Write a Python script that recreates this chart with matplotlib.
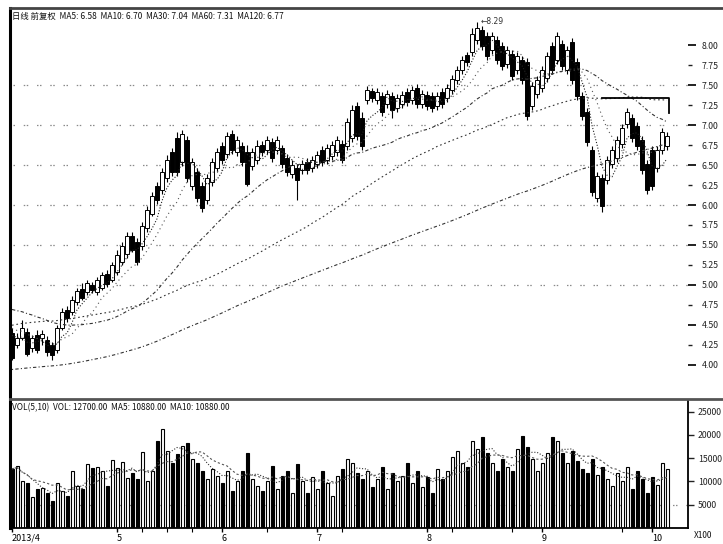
import matplotlib
matplotlib.use('Agg')
import matplotlib.pyplot as plt
import numpy as np
import pandas as pd
from matplotlib.lines import Line2D

plt.rcParams['font.family'] = ['Noto Sans CJK SC', 'DejaVu Sans']

# ---------------- data ----------------
opens = [4.40, 4.25, 4.34, 4.41, 4.21, 4.38, 4.34, 4.31, 4.25, 4.19,
         4.46, 4.69, 4.66, 4.79, 4.95, 4.91, 5.00, 4.91, 4.96, 5.14,
         5.06, 5.16, 5.29, 5.39, 5.61, 5.54, 5.49, 5.71, 5.89, 6.24,
         6.19, 6.34, 6.66, 6.84, 6.54, 6.81, 6.24, 6.41, 6.24, 6.06,
         6.29, 6.46, 6.74, 6.64, 6.89, 6.66, 6.74, 6.66, 6.49, 6.56,
         6.75, 6.69, 6.79, 6.69, 6.71, 6.59, 6.39, 6.46, 6.44, 6.54,
         6.46, 6.51, 6.69, 6.56, 6.61, 6.66, 6.76, 6.74, 6.84, 7.24,
         7.09, 7.31, 7.42, 7.31, 7.36, 7.26, 7.36, 7.21, 7.26, 7.41,
         7.31, 7.46, 7.26, 7.38, 7.36, 7.24, 7.41, 7.34, 7.44, 7.56,
         7.69, 7.88, 7.91, 8.06, 8.19, 8.11, 7.94, 8.06, 7.99, 7.76,
         7.89, 7.69, 7.81, 7.79, 7.24, 7.39, 7.46, 7.59, 7.99, 7.81,
         8.01, 7.69, 8.04, 7.79, 7.36, 7.16, 6.69, 6.09, 6.34, 6.31,
         6.51, 6.59, 6.76, 7.01, 7.09, 6.99, 6.81, 6.51, 6.69, 6.46,
         6.69, 6.74]
closes = [4.09, 4.34, 4.46, 4.14, 4.34, 4.19, 4.39, 4.16, 4.12, 4.46,
          4.66, 4.59, 4.81, 4.92, 4.84, 5.02, 4.94, 5.06, 5.12, 5.01,
          5.25, 5.38, 5.49, 5.61, 5.44, 5.29, 5.74, 5.94, 6.11, 6.06,
          6.41, 6.56, 6.41, 6.41, 6.89, 6.34, 6.54, 6.09, 5.96, 6.34,
          6.54, 6.66, 6.56, 6.86, 6.69, 6.81, 6.54, 6.26, 6.66, 6.74,
          6.66, 6.81, 6.59, 6.81, 6.51, 6.41, 6.50, 6.31, 6.51, 6.44,
          6.56, 6.62, 6.54, 6.71, 6.75, 6.81, 6.56, 7.04, 7.19, 6.86,
          6.74, 7.44, 7.34, 7.41, 7.16, 7.39, 7.19, 7.34, 7.38, 7.29,
          7.44, 7.26, 7.39, 7.24, 7.21, 7.36, 7.26, 7.46, 7.57, 7.69,
          7.81, 7.79, 8.14, 8.21, 7.99, 7.86, 8.11, 7.81, 7.74, 7.94,
          7.61, 7.86, 7.56, 7.11, 7.49, 7.56, 7.69, 7.86, 7.69, 8.11,
          7.74, 7.94, 7.56, 7.36, 7.11, 6.79, 6.16, 6.36, 5.99, 6.56,
          6.69, 6.81, 6.96, 7.16, 6.84, 6.74, 6.44, 6.19, 6.24, 6.69,
          6.91, 6.86]
highs = [4.46, 4.40, 4.56, 4.46, 4.38, 4.44, 4.44, 4.36, 4.29, 4.50,
         4.71, 4.74, 4.86, 4.96, 5.02, 5.06, 5.04, 5.10, 5.16, 5.19,
         5.29, 5.44, 5.54, 5.66, 5.66, 5.59, 5.79, 5.99, 6.16, 6.29,
         6.46, 6.62, 6.71, 6.91, 6.94, 6.86, 6.59, 6.46, 6.29, 6.39,
         6.59, 6.71, 6.79, 6.91, 6.94, 6.86, 6.79, 6.75, 6.71, 6.81,
         6.80, 6.86, 6.84, 6.86, 6.75, 6.64, 6.56, 6.51, 6.56, 6.59,
         6.61, 6.67, 6.74, 6.76, 6.80, 6.86, 6.81, 7.09, 7.25, 7.29,
         7.16, 7.49, 7.46, 7.46, 7.41, 7.44, 7.41, 7.39, 7.42, 7.46,
         7.49, 7.51, 7.44, 7.42, 7.41, 7.41, 7.46, 7.51, 7.62, 7.74,
         7.86, 7.91, 8.21, 8.29, 8.24, 8.16, 8.16, 8.11, 8.04, 7.99,
         7.94, 7.91, 7.86, 7.84, 7.54, 7.61, 7.74, 7.91, 8.04, 8.16,
         8.06, 7.99, 8.09, 7.84, 7.41, 7.21, 6.74, 6.41, 6.39, 6.61,
         6.74, 6.86, 7.01, 7.21, 7.14, 7.04, 6.86, 6.56, 6.74, 6.74,
         6.96, 6.91]
lows = [4.06, 4.21, 4.31, 4.11, 4.16, 4.15, 4.25, 4.11, 4.06, 4.15,
        4.44, 4.54, 4.62, 4.75, 4.81, 4.88, 4.90, 4.88, 4.94, 4.97,
        5.04, 5.12, 5.25, 5.34, 5.41, 5.25, 5.44, 5.66, 5.86, 6.01,
        6.14, 6.29, 6.36, 6.36, 6.49, 6.29, 6.19, 6.04, 5.91, 6.01,
        6.24, 6.41, 6.51, 6.59, 6.64, 6.61, 6.49, 6.24, 6.44, 6.51,
        6.61, 6.64, 6.54, 6.64, 6.46, 6.36, 6.34, 6.06, 6.39, 6.39,
        6.41, 6.46, 6.49, 6.51, 6.56, 6.61, 6.52, 6.69, 6.79, 6.81,
        6.69, 7.26, 7.29, 7.26, 7.11, 7.21, 7.09, 7.16, 7.21, 7.24,
        7.26, 7.21, 7.21, 7.19, 7.16, 7.19, 7.21, 7.29, 7.39, 7.51,
        7.64, 7.74, 7.86, 8.01, 7.94, 7.81, 7.89, 7.76, 7.69, 7.71,
        7.56, 7.64, 7.51, 7.06, 7.19, 7.34, 7.41, 7.54, 7.64, 7.76,
        7.69, 7.64, 7.51, 7.31, 7.06, 6.74, 6.11, 6.04, 5.91, 6.26,
        6.46, 6.54, 6.71, 6.96, 6.79, 6.69, 6.39, 6.14, 6.19, 6.41,
        6.64, 6.69]
volumes = [12700, 13300, 10100, 9700, 6700, 8400, 8600, 7500, 5800, 9700,
           8000, 6900, 12300, 9000, 8400, 13800, 12900, 13100, 12300, 9000,
           14600, 12900, 14200, 10800, 11800, 10500, 16300, 10100, 12300, 18700,
           21300, 16600, 14000, 15900, 17600, 18300, 14800, 14000, 12300, 10500,
           12700, 11200, 9700, 12300, 8000, 10100, 12300, 16100, 10500, 9000,
           8000, 10100, 13300, 8400, 11200, 12300, 7500, 13800, 10100, 7500,
           11000, 8400, 12300, 9700, 6900, 11200, 12700, 14800, 14000, 11800,
           10500, 12300, 8800, 10500, 13100, 8400, 11800, 10100, 11200, 14000,
           9700, 12300, 8800, 11000, 7500, 12700, 10500, 12300, 15300, 16600,
           14000, 13100, 18700, 17000, 19600, 16100, 14000, 12300, 14800, 13100,
           12300, 17000, 19800, 17400, 14800, 12300, 14000, 16100, 19600, 18700,
           16100, 14000, 16600, 14400, 12700, 11800, 14800, 11400, 13100, 10500,
           9000, 11800, 10100, 13100, 8400, 12300, 10500, 7500, 11000, 9200,
           14000, 12700]
# closes before the visible window (estimated), used only for the moving averages
prior_closes = [3.52, 3.55, 3.60, 3.58, 3.63, 3.66, 3.62, 3.59, 3.64, 3.68,
                3.71, 3.67, 3.63, 3.60, 3.58, 3.55, 3.57, 3.52, 3.49, 3.46,
                3.44, 3.41, 3.38, 3.35, 3.33, 3.30, 3.27, 3.25, 3.22, 3.20,
                3.18, 3.15, 3.17, 3.14, 3.12, 3.16, 3.19, 3.21, 3.18, 3.22,
                3.20, 3.17, 3.21, 3.24, 3.22, 3.26, 3.28, 3.25, 3.29, 3.32,
                3.30, 3.34, 3.37, 3.35, 3.39, 3.42, 3.45, 3.48, 3.52, 3.56,
                3.62, 3.68, 3.75, 3.80, 3.86, 3.91, 3.95, 4.00, 4.04, 4.09,
                4.12, 4.16, 4.20, 4.25, 4.28, 4.33, 4.36, 4.40, 4.43, 4.47,
                4.50, 4.52, 4.55, 4.58, 4.60, 4.63, 4.66, 4.68, 4.70, 4.73,
                4.76, 4.80, 4.85, 4.82, 4.88, 4.92, 4.95, 4.90, 4.86, 4.91,
                4.94, 4.89, 4.84, 4.80, 4.77, 4.73, 4.76, 4.70, 4.66, 4.62,
                4.65, 4.60, 4.56, 4.52, 4.55, 4.50, 4.47, 4.43, 4.46, 4.40]
ma_windows = [5, 10, 30, 60, 120]
vol_ma_windows = [5, 10]
date_ticks = [0, 21, 42, 61, 83, 106, 128]
date_labels = ['2013/4', '5', '6', '7', '8', '9', '10']
minor_date_ticks = [26, 31, 36, 51, 66, 88, 100, 122]
price_major = [4.00, 4.50, 5.00, 5.50, 6.00, 6.50, 7.00, 7.50, 8.00]
price_minor = [4.25, 4.75, 5.25, 5.75, 6.25, 6.75, 7.25, 7.75]
price_grid = [5.00, 5.50, 6.00, 6.50, 7.00, 7.50]
vol_ticks = [5000, 10000, 15000, 20000, 25000]
vol_grid = [5000]
drawn_line_x = [118, 131.4, 131.4]
drawn_line_y = [7.34, 7.34, 7.15]

# ---------------- derived ----------------
o = np.array(opens); c = np.array(closes)
h = np.array(highs); l = np.array(lows)
v = np.array(volumes, dtype=float)
n = len(c)
x = np.arange(n)
up = c >= o

allc = pd.Series(prior_closes + closes)
mas = {w: allc.rolling(w).mean().to_numpy()[len(prior_closes):] for w in ma_windows}
vs = pd.Series(v)
vmas = {w: vs.rolling(w, min_periods=1).mean().to_numpy() for w in vol_ma_windows}

# ---------------- figure ----------------
W, H = 723, 544
fig = plt.figure(figsize=(W / 100, H / 100), dpi=100)
fx = lambda px: px / W
fy = lambda py: 1 - py / H

ax = fig.add_axes([fx(10), fy(397), fx(688) - fx(10), fy(8) - fy(397)])
axv = fig.add_axes([fx(10), fy(528), fx(688) - fx(10), fy(400) - fy(528)])

xlim = (-0.4, 135.2)

# price grid
for lvl in price_grid:
    ax.axhline(lvl, color='#8a8a8a', lw=0.9, ls=(0, (1.2, 1.2, 1.2, 7)), zorder=0)

# candles
ax.vlines(x, l, h, color='black', lw=0.8, zorder=2)
bb = np.minimum(o, c)
bh = np.maximum(np.abs(c - o), 0.012)
ax.bar(x[up], bh[up], bottom=bb[up], width=0.7, facecolor='white',
       edgecolor='black', lw=0.7, zorder=3)
ax.bar(x[~up], bh[~up], bottom=bb[~up], width=0.7, facecolor='black',
       edgecolor='black', lw=0.7, zorder=3)

styles = {5: dict(color='#222222', lw=0.8, ls=(0, (1, 1.6))),
          10: dict(color='#555555', lw=0.8, ls=(0, (1, 3))),
          30: dict(color='#333333', lw=0.8, ls=(0, (3, 2, 1, 2))),
          60: dict(color='#333333', lw=0.8, ls=(0, (1.5, 2.5))),
          120: dict(color='#333333', lw=0.8, ls=(0, (1, 2, 3, 2)))}
for w in ma_windows:
    ax.plot(x, mas[w], zorder=4, **styles[w])

ax.plot(drawn_line_x, drawn_line_y, color='black', lw=1.3, zorder=5)

# highest price marker
imax = int(np.argmax(h))
ax.text(imax + 0.8, h[imax], '\u2190%.2f' % h[imax], fontsize=5.5,
        va='center', ha='left', color='#333333', family=['DejaVu Sans'])

ax.set_xlim(*xlim)
ax.set_ylim(3.6, 8.4625)
ax.set_xticks([])
ax.yaxis.tick_right()
ax.set_yticks(price_major)
ax.set_yticks(price_minor, minor=True)
ax.set_yticklabels(['%.2f' % t for t in price_major], fontsize=6.3)
ax.set_yticklabels(['%.2f' % t for t in price_minor], minor=True, fontsize=6.3)
ax.tick_params(axis='y', which='major', length=6, width=1.4, pad=4, colors='#222222')
ax.tick_params(axis='y', which='minor', length=3, width=1.0, pad=7, colors='#222222')
for s in ['top', 'right', 'bottom']:
    ax.spines[s].set_visible(False)
ax.spines['left'].set_linewidth(2.2)

# volume panel
for lvl in vol_grid:
    axv.axhline(lvl, color='#8a8a8a', lw=0.9, ls=(0, (1.2, 1.2, 1.2, 7)), zorder=0)
axv.bar(x[up], v[up], width=0.6, facecolor='white', edgecolor='black', lw=0.8, zorder=2)
axv.bar(x[~up], v[~up], width=0.6, facecolor='black', edgecolor='black', lw=0.8, zorder=2)
axv.plot(x, vmas[5], color='#333333', lw=0.8, ls=(0, (1, 1.6)), zorder=3)
axv.plot(x, vmas[10], color='#555555', lw=0.8, ls=(0, (2, 2)), zorder=3)
axv.set_xlim(*xlim)
axv.set_ylim(0, 27500)
axv.yaxis.tick_right()
axv.set_yticks(vol_ticks)
axv.set_yticklabels([str(t) for t in vol_ticks], fontsize=6.3)
axv.tick_params(axis='y', length=4, width=1.0, pad=3, colors='#222222')
axv.set_xticks(date_ticks)
axv.set_xticklabels(date_labels, fontsize=6.5)
axv.set_xticks(minor_date_ticks, minor=True)
axv.tick_params(axis='x', which='major', length=3, width=1.0, pad=1)
axv.tick_params(axis='x', which='minor', length=3, width=0.8)
for lbl in axv.get_xticklabels():
    lbl.set_horizontalalignment('left')
axv.spines['top'].set_visible(False)
axv.spines['left'].set_linewidth(2.2)
axv.spines['right'].set_linewidth(1.3)
axv.spines['bottom'].set_linewidth(1.3)

# frame lines across the whole figure
fig.add_artist(Line2D([fx(10), 1], [fy(8), fy(8)], color='#444444', lw=2.0))
fig.add_artist(Line2D([fx(10), 1], [fy(398.5), fy(398.5)], color='#555555', lw=2.0))

# header texts
hdr = '日线 前复权  ' + '  '.join('MA%d: %.2f' % (w, mas[w][-1]) for w in ma_windows)
fig.text(fx(12), fy(16), hdr, fontsize=6, va='center', ha='left', color='#111111')
vhdr = 'VOL(5,10)  VOL: %.2f  MA5: %.2f  MA10: %.2f' % (v[-1], vmas[5][-1], vmas[10][-1])
fig.text(fx(12), fy(408), vhdr, fontsize=6, va='center', ha='left', color='#111111')
fig.text(fx(694), fy(536), 'X100', fontsize=6, va='center', ha='left', color='#111111')

fig.savefig('out.png', dpi=100, facecolor='white')
